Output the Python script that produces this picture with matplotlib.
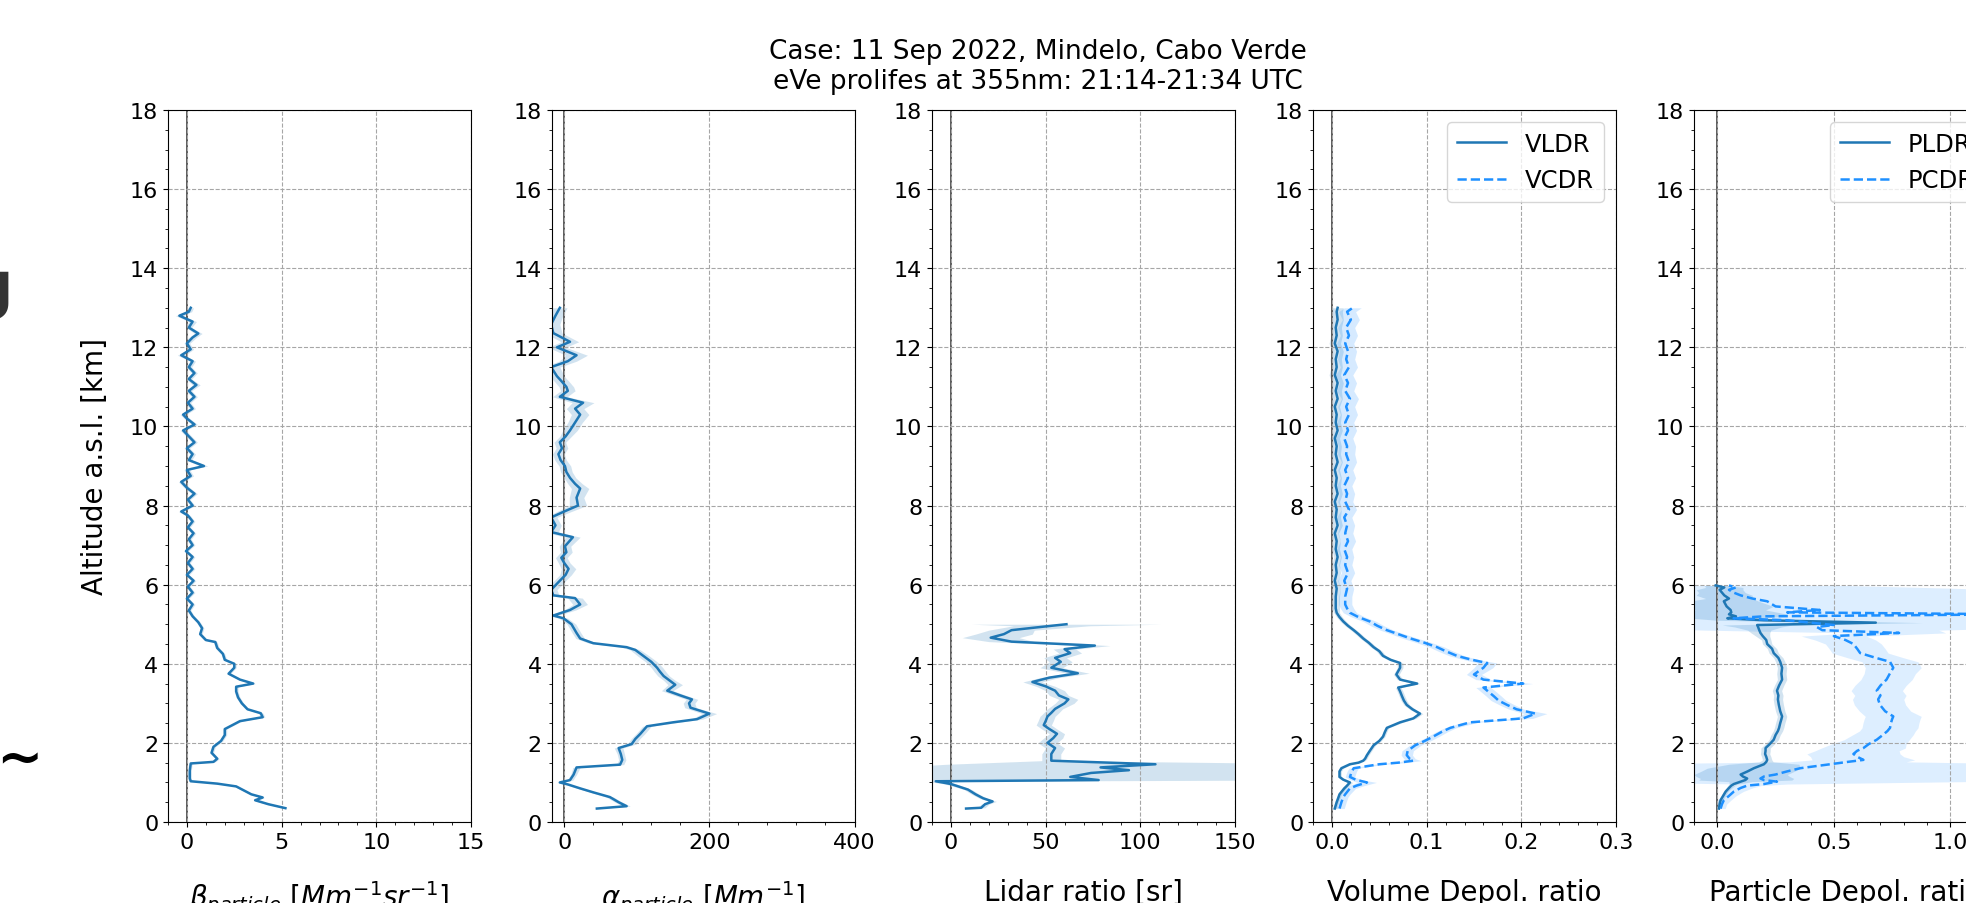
import numpy as np
import matplotlib.pyplot as plt
from matplotlib.ticker import AutoMinorLocator

# backscatter profile [Mm-1 sr-1]
alt_bsc = [0.35, 0.45, 0.55, 0.62, 0.7, 0.8, 0.9, 0.97, 1.03, 1.1,
           1.3, 1.48, 1.52, 1.6, 1.75, 1.9, 2.05, 2.2, 2.35, 2.45,
           2.55, 2.65, 2.75, 2.85, 3.0, 3.15, 3.3, 3.42, 3.5, 3.6,
           3.75, 3.9, 4.0, 4.1, 4.25, 4.4, 4.55, 4.6, 4.75, 4.9,
           5.05, 5.2, 5.35,
           5.5, 5.65, 5.8, 5.95, 6.1, 6.25, 6.4, 6.55, 6.7, 6.85,
           7.0, 7.15, 7.3, 7.45, 7.6, 7.75, 7.85, 8.0, 8.15, 8.3,
           8.45, 8.6, 8.75, 8.9, 9.0, 9.15, 9.3, 9.45, 9.6, 9.75,
           9.9, 10.05, 10.2, 10.3, 10.45, 10.6, 10.75, 10.9, 11.05, 11.2,
           11.35, 11.5, 11.65, 11.8, 11.95, 12.1, 12.25, 12.35, 12.5, 12.65,
           12.8, 12.9, 13.0]
bsc = [5.2, 4.3, 3.6, 4.0, 3.4, 3.0, 2.6, 1.6, 0.2, 0.15,
       0.15, 0.2, 1.4, 1.6, 1.3, 1.4, 1.8, 2.0, 2.0, 2.4,
       2.8, 4.0, 3.9, 3.2, 2.9, 2.7, 2.6, 2.6, 3.5, 2.8,
       2.2, 2.5, 2.5, 2.0, 1.9, 1.6, 1.5, 1.0, 0.7, 0.8,
       0.6, 0.3, 0.1,
       0.3, 0.0, 0.3, 0.05, 0.35, 0.0, 0.3, 0.05, 0.3, -0.05,
       0.3, 0.1, 0.35, 0.05, 0.3, 0.05, -0.3, 0.3, 0.05, 0.4,
       0.0, -0.3, 0.2, 0.0, 0.9, 0.1, 0.3, 0.0, 0.4, 0.1,
       -0.2, 0.4, 0.0, -0.2, 0.3, 0.05, 0.4, 0.1, 0.5, 0.1,
       0.4, 0.1, 0.3, -0.3, 0.2, 0.0, 0.3, 0.6, 0.1, 0.3,
       -0.4, 0.1, 0.2]
bsc_err = [0.1, 0.1, 0.1, 0.1, 0.1, 0.1, 0.1, 0.1, 0.08, 0.08,
           0.08, 0.08, 0.1, 0.1, 0.1, 0.1, 0.1, 0.1, 0.1, 0.1,
           0.1, 0.12, 0.12, 0.1, 0.1, 0.1, 0.1, 0.1, 0.12, 0.1,
           0.1, 0.1, 0.1, 0.1, 0.1, 0.1, 0.1, 0.1, 0.1, 0.1,
           0.1, 0.1, 0.1,
           0.12, 0.12, 0.12, 0.12, 0.12, 0.12, 0.12, 0.12, 0.12, 0.12,
           0.12, 0.12, 0.12, 0.12, 0.12, 0.12, 0.15, 0.12, 0.12, 0.15,
           0.15, 0.15, 0.15, 0.15, 0.2, 0.15, 0.15, 0.15, 0.15, 0.15,
           0.15, 0.15, 0.15, 0.15, 0.15, 0.15, 0.15, 0.15, 0.2, 0.15,
           0.15, 0.15, 0.15, 0.2, 0.15, 0.15, 0.2, 0.2, 0.15, 0.2,
           0.2, 0.15, 0.15]

# extinction profile [Mm-1]
alt_ext = [0.34, 0.4, 0.5, 0.63, 0.75, 0.85, 0.95, 1.0, 1.06, 1.2,
           1.38, 1.45, 1.57, 1.72, 1.87, 1.97, 2.1, 2.23, 2.42, 2.52,
           2.6, 2.74, 2.89, 3.0, 3.1, 3.2, 3.32, 3.47, 3.58, 3.69,
           3.8, 3.9, 4.05, 4.2, 4.35, 4.42, 4.52, 4.64, 4.78, 5.0,
           5.15, 5.22, 5.36, 5.5, 5.66, 5.73, 5.87, 6.1, 6.25, 6.4,
           6.55, 6.68, 6.82, 6.97, 7.2, 7.33, 7.5, 7.7, 7.85, 8.0,
           8.2, 8.43, 8.55, 8.7, 8.85, 9.0, 9.15, 9.3, 9.45, 9.6,
           9.75, 9.9, 10.1, 10.3, 10.45, 10.6, 10.75, 10.9, 11.0, 11.15,
           11.27, 11.5, 11.65, 11.8, 12.0, 12.14, 12.36, 12.58, 12.8, 13.0]
ext = [45, 86, 75, 63, 40, 22, 5, -6, 8, 13,
       17, 77, 80, 78, 75, 93, 98, 105, 114, 150,
       183, 200, 174, 172, 176, 160, 142, 153, 145, 137,
       132, 128, 120, 109, 98, 86, 40, 22, 17, 10,
       -1, -15, 8, 22, 15, -15, -18, -6, 2, 6,
       0, -4, 3, 1, 12, -18, -12, -18, 0, 19,
       17, 22, 15, 8, 3, 1, -5, -8, -3, -6,
       2, 8, 15, 22, 15, 26, -6, 5, 3, -4,
       -10, -18, 5, 17, -10, 8, -15, -18, -12, -6]
ext_err = [4, 5, 5, 5, 4, 4, 4, 4, 4, 4,
           5, 5, 5, 5, 6, 6, 6, 6, 6, 8,
           8, 10, 8, 8, 8, 8, 8, 10, 8, 8,
           8, 8, 8, 8, 7, 7, 6, 6, 6, 6,
           6, 6, 8, 10, 10, 8, 8, 8, 8, 10,
           8, 8, 8, 8, 10, 10, 8, 8, 10, 12,
           10, 12, 10, 8, 8, 8, 8, 8, 8, 8,
           8, 10, 10, 12, 12, 15, 10, 10, 10, 10,
           10, 12, 12, 15, 12, 12, 12, 12, 10, 10]

# lidar ratio [sr]
alt_lr = [0.34, 0.36, 0.45, 0.52, 0.6, 0.7, 0.82, 0.96, 1.03, 1.06,
          1.14, 1.24, 1.31, 1.38, 1.46, 1.55, 1.72, 1.87, 2.0, 2.12,
          2.23, 2.35, 2.45, 2.55, 2.67, 2.76, 2.86, 3.0, 3.1, 3.2,
          3.32, 3.43, 3.54, 3.65, 3.76, 3.9, 4.05, 4.15, 4.27, 4.37,
          4.46, 4.56, 4.66, 4.75, 4.85, 4.96, 5.0]
lr = [8, 16, 18, 22, 17, 13, 9, 0, -8, 78,
      63, 74, 94, 79, 108, 53, 53, 55, 51, 54,
      56, 52, 49, 50, 51, 53, 55, 60, 62, 57,
      55, 50, 43, 52, 67, 53, 58, 55, 63, 60,
      76, 32, 21, 28, 32, 53, 61]
lr_err = [2, 2, 2, 2, 2, 2, 2, 3, 5, 100,
          110, 110, 110, 110, 110, 5, 5, 5, 5, 5,
          4, 4, 4, 4, 4, 4, 4, 5, 5, 5,
          5, 5, 5, 5, 6, 6, 6, 6, 6, 6,
          8, 12, 15, 15, 12, 20, 50]

# volume depolarization ratios
alt_vdr = [0.34, 0.5, 0.63, 0.7, 0.85, 0.92, 1.0, 1.07, 1.14, 1.28,
           1.36, 1.46, 1.5, 1.55, 1.6, 1.69, 1.8, 1.94, 2.05, 2.16,
           2.28, 2.38, 2.52, 2.62, 2.74, 2.85, 2.96, 3.07, 3.18, 3.3,
           3.4, 3.5, 3.6, 3.73, 3.9, 4.02, 4.1, 4.2, 4.32, 4.42,
           4.53, 4.64, 4.75, 4.85, 4.96, 5.07, 5.18, 5.29, 5.4, 5.5,
           5.7, 5.9, 6.1, 6.3, 6.5, 6.7, 6.9, 7.1, 7.3, 7.5,
           7.7, 7.9, 8.1, 8.3, 8.5, 8.7, 8.9, 9.1, 9.3, 9.5,
           9.7, 9.9, 10.1, 10.3, 10.5, 10.7, 10.9, 11.1, 11.3, 11.5,
           11.7, 11.9, 12.1, 12.3, 12.5, 12.7, 12.9, 13.0]
vldr = [0.003, 0.005, 0.007, 0.008, 0.013, 0.016, 0.019, 0.012, 0.008, 0.008,
        0.01, 0.019, 0.028, 0.033, 0.035, 0.037, 0.04, 0.044, 0.05, 0.054,
        0.056, 0.058, 0.072, 0.086, 0.093, 0.085, 0.079, 0.076, 0.074, 0.072,
        0.07, 0.09, 0.072, 0.068, 0.072, 0.072, 0.062, 0.054, 0.05, 0.044,
        0.039, 0.033, 0.028, 0.023, 0.017, 0.012, 0.008, 0.005, 0.004, 0.004,
        0.004, 0.005, 0.003, 0.005, 0.004, 0.006, 0.004, 0.005, 0.003, 0.006,
        0.004, 0.005, 0.003, 0.006, 0.004, 0.005, 0.003, 0.006, 0.004, 0.005,
        0.003, 0.006, 0.004, 0.005, 0.003, 0.006, 0.004, 0.006, 0.003, 0.005,
        0.004, 0.006, 0.003, 0.005, 0.004, 0.006, 0.005, 0.006]
vcdr = [0.008, 0.01, 0.012, 0.014, 0.019, 0.026, 0.037, 0.025, 0.019, 0.021,
        0.023, 0.05, 0.07, 0.086, 0.082, 0.079, 0.08, 0.088, 0.098, 0.107,
        0.116, 0.125, 0.146, 0.202, 0.215, 0.195, 0.185, 0.176, 0.171, 0.165,
        0.16, 0.202, 0.16, 0.15, 0.16, 0.164, 0.148, 0.132, 0.12, 0.111,
        0.098, 0.083, 0.07, 0.058, 0.048, 0.04, 0.028, 0.019, 0.016, 0.014,
        0.014, 0.016, 0.013, 0.017, 0.014, 0.016, 0.013, 0.017, 0.014, 0.016,
        0.013, 0.018, 0.014, 0.016, 0.013, 0.017, 0.014, 0.018, 0.015, 0.016,
        0.013, 0.017, 0.014, 0.018, 0.015, 0.019, 0.014, 0.017, 0.013, 0.018,
        0.015, 0.017, 0.014, 0.018, 0.015, 0.02, 0.016, 0.022]
vldr_err = [0.002, 0.002, 0.002, 0.002, 0.002, 0.002, 0.003, 0.002, 0.002, 0.002,
            0.002, 0.002, 0.002, 0.002, 0.002, 0.002, 0.002, 0.002, 0.002, 0.002,
            0.002, 0.002, 0.003, 0.003, 0.003, 0.003, 0.003, 0.003, 0.003, 0.003,
            0.003, 0.003, 0.003, 0.003, 0.003, 0.003, 0.003, 0.003, 0.003, 0.003,
            0.003, 0.003, 0.003, 0.003, 0.003, 0.003, 0.003, 0.003, 0.004, 0.004,
            0.004, 0.004, 0.004, 0.004, 0.004, 0.004, 0.004, 0.004, 0.004, 0.005,
            0.005, 0.005, 0.005, 0.005, 0.005, 0.005, 0.005, 0.005, 0.005, 0.005,
            0.005, 0.005, 0.005, 0.005, 0.005, 0.005, 0.006, 0.006, 0.006, 0.006,
            0.006, 0.006, 0.006, 0.006, 0.006, 0.006, 0.006, 0.006]
vcdr_err = [0.005, 0.005, 0.005, 0.005, 0.006, 0.008, 0.01, 0.006, 0.005, 0.005,
            0.005, 0.006, 0.008, 0.008, 0.006, 0.006, 0.006, 0.006, 0.006, 0.006,
            0.006, 0.006, 0.008, 0.01, 0.012, 0.008, 0.008, 0.008, 0.008, 0.008,
            0.008, 0.01, 0.008, 0.008, 0.01, 0.01, 0.008, 0.008, 0.008, 0.008,
            0.008, 0.008, 0.007, 0.007, 0.007, 0.007, 0.007, 0.007, 0.007, 0.007,
            0.007, 0.007, 0.007, 0.007, 0.007, 0.007, 0.008, 0.008, 0.008, 0.008,
            0.008, 0.008, 0.008, 0.008, 0.008, 0.008, 0.008, 0.008, 0.009, 0.009,
            0.009, 0.009, 0.009, 0.009, 0.009, 0.009, 0.009, 0.009, 0.009, 0.009,
            0.009, 0.009, 0.009, 0.009, 0.009, 0.009, 0.009, 0.009]

# particle depolarization ratios
alt_pdr = [0.34, 0.45, 0.55, 0.66, 0.77, 0.86, 0.92, 0.96, 1.02, 1.06,
           1.1, 1.15, 1.2, 1.28, 1.36, 1.46, 1.52, 1.57, 1.65, 1.72,
           1.8, 1.87, 1.97, 2.08, 2.2, 2.3, 2.38, 2.5, 2.6, 2.67,
           2.8, 2.96, 3.1, 3.2, 3.32, 3.45, 3.6, 3.75, 3.9, 4.05,
           4.15, 4.27, 4.38, 4.5, 4.6, 4.7, 4.78, 4.85, 4.93, 4.98,
           5.04, 5.1, 5.15, 5.2, 5.25, 5.3, 5.36, 5.45, 5.58, 5.65,
           5.73, 5.8, 5.87, 5.93, 5.98]
pldr = [0.007, 0.01, 0.014, 0.025, 0.036, 0.05, 0.06, 0.071, 0.1, 0.12,
        0.128, 0.11, 0.1, 0.13, 0.157, 0.2, 0.21, 0.214, 0.21, 0.205,
        0.207, 0.207, 0.225, 0.242, 0.25, 0.26, 0.265, 0.27, 0.275, 0.278,
        0.27, 0.264, 0.26, 0.262, 0.256, 0.265, 0.278, 0.275, 0.278, 0.27,
        0.262, 0.242, 0.235, 0.214, 0.21, 0.195, 0.185, 0.18, 0.175, 0.171,
        0.68, 0.2, 0.043, 0.08, 0.05, 0.06, 0.057, 0.04, 0.028, 0.05,
        0.03, 0.02, 0.01, 0.03, -0.007]
pcdr = [0.014, 0.02, 0.028, 0.05, 0.071, 0.1, 0.128, 0.2, 0.256, 0.2,
        0.185, 0.2, 0.25, 0.3, 0.356, 0.484, 0.56, 0.627, 0.6, 0.584,
        0.6, 0.627, 0.65, 0.684, 0.71, 0.73, 0.741, 0.745, 0.75, 0.755,
        0.72, 0.698, 0.69, 0.7, 0.684, 0.7, 0.726, 0.74, 0.755, 0.741,
        0.68, 0.613, 0.6, 0.584, 0.55, 0.5, 0.78, 0.45, 0.427, 0.5,
        0.4, 0.3, 0.07, 0.2, 1.3, 0.3, 0.44, 0.25, 0.214, 0.15,
        0.1, 0.07, 0.05, 0.08, 0.05]
pldr_err = [0.01, 0.01, 0.01, 0.01, 0.01, 0.012, 0.015, 0.02, 0.05, 0.2,
            0.2, 0.2, 0.2, 0.2, 0.2, 0.15, 0.03, 0.02, 0.02, 0.02,
            0.02, 0.02, 0.02, 0.02, 0.02, 0.02, 0.02, 0.02, 0.02, 0.02,
            0.02, 0.02, 0.02, 0.02, 0.02, 0.02, 0.02, 0.02, 0.02, 0.02,
            0.02, 0.02, 0.02, 0.02, 0.02, 0.03, 0.04, 0.05, 0.1, 0.15,
            0.2, 0.2, 0.15, 0.2, 0.25, 0.2, 0.15, 0.2, 0.15, 0.1,
            0.12, 0.1, 0.1, 0.08, 0.05]
pcdr_err = [0.02, 0.02, 0.03, 0.03, 0.04, 0.05, 0.06, 0.1, 0.8, 1.2,
            1.2, 1.2, 1.2, 1.2, 1.2, 1.0, 0.25, 0.22, 0.2, 0.2,
            0.18, 0.18, 0.16, 0.14, 0.13, 0.12, 0.12, 0.12, 0.12, 0.12,
            0.11, 0.11, 0.11, 0.11, 0.11, 0.11, 0.11, 0.11, 0.12, 0.12,
            0.12, 0.12, 0.12, 0.12, 0.13, 0.14, 0.2, 0.5, 1.0, 1.2,
            1.5, 1.5, 1.3, 1.5, 2.0, 1.5, 1.2, 1.5, 1.3, 1.2,
            1.3, 1.0, 1.2, 0.8, 0.5]

xlims = [(-1, 15), (-17.5, 400), (-10, 150), (-0.02, 0.3), (-0.1, 1.2)]
xticks = [[0, 5, 10, 15], [0, 200, 400], [0, 50, 100, 150],
          [0.0, 0.1, 0.2, 0.3], [0.0, 0.5, 1.0]]
xlabels = [r'$\beta_{particle}$ $[Mm^{-1}sr^{-1}]$',
           r'$\alpha_{particle}$ $[Mm^{-1}]$',
           'Lidar ratio [sr]', 'Volume Depol. ratio', 'Particle Depol. ratio']

c1 = '#1f77b4'
c2 = '#1e90ff'

W, H = 1966, 904
fig = plt.figure(figsize=(W / 100, H / 100), dpi=100)
lefts = [168, 551.5, 932, 1313, 1694]
axes = [fig.add_axes([l / W, 81 / H, 303 / W, 712 / H]) for l in lefts]


def band(ax, alt, val, err, color, alpha):
    val = np.array(val)
    err = np.array(err)
    ax.fill_betweenx(alt, val - err, val + err, color=color, alpha=alpha, lw=0)


ax = axes[0]
band(ax, alt_bsc, bsc, bsc_err, c1, 0.2)
ax.plot(bsc, alt_bsc, color=c1, lw=1.8)

ax = axes[1]
band(ax, alt_ext, ext, ext_err, c1, 0.2)
ax.plot(ext, alt_ext, color=c1, lw=1.8)

ax = axes[2]
band(ax, alt_lr, lr, lr_err, c1, 0.2)
ax.plot(lr, alt_lr, color=c1, lw=1.8)

ax = axes[3]
band(ax, alt_vdr, vldr, vldr_err, c1, 0.2)
band(ax, alt_vdr, vcdr, vcdr_err, c2, 0.18)
ax.plot(vldr, alt_vdr, color=c1, lw=1.8, label='VLDR')
ax.plot(vcdr, alt_vdr, color=c2, lw=1.8, ls='--', label='VCDR')

ax = axes[4]
band(ax, alt_pdr, pldr, pldr_err, c1, 0.2)
band(ax, alt_pdr, pcdr, pcdr_err, c2, 0.15)
ax.plot(pldr, alt_pdr, color=c1, lw=1.8, label='PLDR')
ax.plot(pcdr, alt_pdr, color=c2, lw=1.8, ls='--', label='PCDR')

for i, ax in enumerate(axes):
    ax.axvline(0, color='0.3', lw=1.3, zorder=1)
    ax.set_xlim(xlims[i])
    ax.set_ylim(0, 18)
    ax.set_xticks(xticks[i])
    ax.set_yticks(range(0, 19, 2))
    ax.xaxis.set_minor_locator(AutoMinorLocator(5))
    ax.yaxis.set_minor_locator(AutoMinorLocator(4))
    ax.tick_params(labelsize=16)
    ax.grid(True, ls='--', color='0.65', lw=0.8)
    ax.set_xlabel(xlabels[i], fontsize=20, labelpad=19)

axes[0].set_ylabel('Altitude a.s.l. [km]', fontsize=20, labelpad=15)
axes[3].legend(loc='upper right', fontsize=17.5)
axes[4].legend(loc='upper right', fontsize=17.5)

fig.text(1038 / W, 1 - 39 / H,
         'Case: 11 Sep 2022, Mindelo, Cabo Verde\neVe prolifes at 355nm: 21:14-21:34 UTC',
         ha='center', va='top', fontsize=19)

# clipped pieces of text from the neighbouring panel
fig.text(13 / W, 1 - 306 / H, 'g', fontsize=46, fontweight='bold',
         color='#333333', ha='right', va='baseline')
fig.text(-4 / W, 1 - 760 / H, '~', fontsize=40, fontweight='bold',
         color='black', ha='left', va='center')

fig.savefig('out.png', dpi=100)
